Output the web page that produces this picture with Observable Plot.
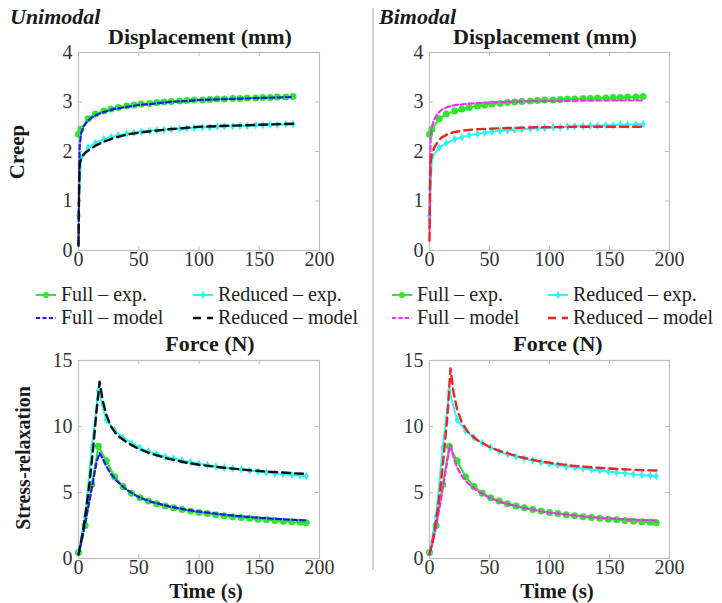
<!DOCTYPE html>
<html>
<head>
<meta charset="utf-8">
<script src="https://cdn.jsdelivr.net/npm/d3@7"></script>
<script src="https://cdn.jsdelivr.net/npm/@observablehq/plot@0.6"></script>
<style>
  body { margin: 0; background: #fff; }
  #fig { position: relative; width: 722px; height: 603px; overflow: hidden; }
  #fig svg { position: absolute; }
  #fig svg text { font-family: "Liberation Serif", "Times New Roman", serif !important; }
</style>
</head>
<body>
<div id="fig"></div>
<script>
// ---- Creep: displacement (mm) over time (s) ----
const creepTimeExp = [0, 2, 8, 14, 21, 27, 33, 40, 46, 52, 59, 65, 71, 77, 84, 90, 96, 103, 109, 115, 121, 128, 134, 140, 147, 153, 159, 165, 172, 178];
const fullCreepExp = [2.35, 2.45, 2.66, 2.76, 2.82, 2.86, 2.89, 2.92, 2.94, 2.96, 2.97, 2.99, 3.0, 3.01, 3.02, 3.03, 3.04, 3.04, 3.05, 3.06, 3.06, 3.07, 3.07, 3.08, 3.08, 3.09, 3.09, 3.1, 3.1, 3.11];
const reducedCreepExp = [0.7, 1.88, 2.08, 2.17, 2.25, 2.29, 2.33, 2.36, 2.38, 2.4, 2.42, 2.43, 2.44, 2.45, 2.46, 2.47, 2.48, 2.49, 2.49, 2.5, 2.51, 2.51, 2.52, 2.52, 2.53, 2.53, 2.54, 2.54, 2.55, 2.55];

const creepTimeModel = [0, 0.5, 1, 2, 4, 7, 10, 15, 20, 30, 40, 50, 60, 75, 90, 100, 125, 150, 178];
const fullCreepUni = [0.1, 1.5, 2.1, 2.35, 2.5, 2.6, 2.67, 2.74, 2.79, 2.86, 2.9, 2.94, 2.96, 3.0, 3.02, 3.04, 3.06, 3.08, 3.1];
const reducedCreepUni = [0.1, 1.2, 1.75, 1.85, 1.93, 2.0, 2.05, 2.13, 2.19, 2.28, 2.34, 2.38, 2.41, 2.45, 2.48, 2.5, 2.52, 2.54, 2.56];
const fullCreepBi = [0.4, 1.8, 2.3, 2.5, 2.65, 2.77, 2.84, 2.9, 2.93, 2.96, 2.98, 2.99, 3.0, 3.01, 3.02, 3.02, 3.03, 3.03, 3.03];
const reducedCreepBi = [0.2, 1.3, 1.8, 1.95, 2.08, 2.2, 2.28, 2.35, 2.39, 2.43, 2.45, 2.46, 2.47, 2.48, 2.49, 2.49, 2.5, 2.5, 2.5];

// ---- Stress-relaxation: force (N) over time (s) ----
const relaxTimeExp = [0, 5.5, 11, 16.5, 23, 30, 37, 44, 51, 58, 65, 72, 79, 86, 93, 100, 107, 114, 121, 128, 135, 142, 149, 156, 163, 170, 177, 184, 189];
const fullRelaxExp = [0.45, 2.5, 5.6, 8.5, 7.4, 6.2, 5.45, 4.95, 4.6, 4.35, 4.15, 3.98, 3.85, 3.72, 3.6, 3.48, 3.4, 3.32, 3.24, 3.17, 3.1, 3.04, 2.98, 2.93, 2.88, 2.83, 2.78, 2.74, 2.7];
const reducedRelaxExp = [0.45, 3.2, 8.4, 12.7, 10.5, 9.7, 9.15, 8.75, 8.4, 8.1, 7.9, 7.72, 7.57, 7.43, 7.3, 7.18, 7.08, 6.98, 6.9, 6.82, 6.74, 6.66, 6.59, 6.52, 6.45, 6.39, 6.33, 6.28, 6.24];

const relaxTimeModel = [0, 3, 6, 9, 12, 15, 17.5, 20, 23, 27, 32, 40, 50, 60, 75, 90, 100, 120, 140, 160, 180, 190];
const fullRelaxUni = [0.3, 1.5, 2.9, 4.3, 5.8, 7.3, 8.0, 7.6, 7.0, 6.4, 5.85, 5.2, 4.65, 4.3, 3.95, 3.68, 3.55, 3.33, 3.15, 3.02, 2.92, 2.88];
const reducedRelaxUni = [0.3, 1.7, 3.5, 5.6, 8.2, 11.2, 13.4, 12.0, 10.9, 10.0, 9.35, 8.8, 8.3, 7.95, 7.55, 7.25, 7.1, 6.88, 6.7, 6.56, 6.45, 6.4];
const fullRelaxBi = [0.3, 1.3, 2.7, 4.2, 5.8, 7.5, 8.6, 7.7, 6.9, 6.25, 5.7, 5.1, 4.6, 4.25, 3.9, 3.62, 3.48, 3.27, 3.1, 2.98, 2.9, 2.88];
const reducedRelaxBi = [0.3, 1.5, 3.2, 5.3, 7.9, 10.9, 14.4, 12.6, 11.3, 10.3, 9.6, 8.95, 8.45, 8.1, 7.7, 7.4, 7.25, 7.02, 6.87, 6.76, 6.68, 6.66];

// ---- ticks ----
const timeTicks = [0, 50, 100, 150, 200];
const creepTicks = [0, 1, 2, 3, 4];
const relaxTicks = [0, 5, 10, 15];

// ---- series colours and dashes ----
const green = "#2ee62e", cyan = "#2cf5f5", blue = "#1a1aee", black = "#111111", magenta = "#f22ef2", red = "#ee2424";
const shortDash = "5,3", longDash = "8,5";
const frameGray = "#bdbdbd";
const serif = "Liberation Serif";

const zip = (t, v) => t.map((x, i) => ({t: x, v: v[i]}));

const fig = document.getElementById("fig");

function panel({left, top, width, height, mt, mr, mb, ml, yDomain, yTicks, fullExp, reducedExp, fullModel, reducedModel}) {
  const fw = width - ml - mr, fh = height - mt - mb;
  const inner = (a) => a.slice(1, -1);
  const axisText = {fontFamily: serif, fontSize: 20, fill: "#333", tickFormat: d => String(d), label: null, tickSize: 0};
  const svg = Plot.plot({
    width, height,
    marginTop: mt, marginRight: mr, marginBottom: mb, marginLeft: ml,
    x: {domain: [0, 200]},
    y: {domain: yDomain},
    style: {fontFamily: serif, fontSize: "20px", color: "#333", background: "transparent", overflow: "visible"},
    marks: [
      Plot.frame({stroke: frameGray, strokeWidth: 1.2}),
      Plot.tickX(inner(timeTicks), {x: d => d, stroke: frameGray, insetTop: fh - 4}),
      Plot.tickX(inner(timeTicks), {x: d => d, stroke: frameGray, insetBottom: fh - 4}),
      Plot.tickY(inner(yTicks), {y: d => d, stroke: frameGray, insetRight: fw - 4}),
      Plot.tickY(inner(yTicks), {y: d => d, stroke: frameGray, insetLeft: fw - 4}),
      Plot.axisX({ticks: timeTicks, tickPadding: 1, ...axisText}),
      Plot.axisY({ticks: yTicks, tickPadding: 6, ...axisText}),
      // experimental curves: solid line with markers
      Plot.line(fullExp, {x: "t", y: "v", stroke: green, strokeWidth: 2}),
      Plot.dot(fullExp, {x: "t", y: "v", fill: green, r: 3.5}),
      Plot.line(reducedExp, {x: "t", y: "v", stroke: cyan, strokeWidth: 2}),
      Plot.dot(reducedExp, {x: "t", y: "v", fill: cyan, symbol: "diamond", r: 2.6}),
      // model curves: dashed
      Plot.line(fullModel.data, {x: "t", y: "v", stroke: fullModel.color, strokeWidth: 2.2, strokeDasharray: shortDash}),
      Plot.line(reducedModel.data, {x: "t", y: "v", stroke: reducedModel.color, strokeWidth: 2.4, strokeDasharray: longDash})
    ]
  });
  svg.style.left = left + "px";
  svg.style.top = top + "px";
  fig.appendChild(svg);
}

const creepExpFull = zip(creepTimeExp, fullCreepExp);
const creepExpReduced = zip(creepTimeExp, reducedCreepExp);
const relaxExpFull = zip(relaxTimeExp, fullRelaxExp);
const relaxExpReduced = zip(relaxTimeExp, reducedRelaxExp);

// Unimodal creep
panel({left: 0, top: 40, width: 361, height: 235, mt: 12, mr: 42, mb: 25, ml: 78,
  yDomain: [0, 4], yTicks: creepTicks, fullExp: creepExpFull, reducedExp: creepExpReduced,
  fullModel: {data: zip(creepTimeModel, fullCreepUni), color: blue},
  reducedModel: {data: zip(creepTimeModel, reducedCreepUni), color: black}});
// Bimodal creep
panel({left: 361, top: 40, width: 361, height: 235, mt: 12, mr: 53, mb: 25, ml: 68,
  yDomain: [0, 4], yTicks: creepTicks, fullExp: creepExpFull, reducedExp: creepExpReduced,
  fullModel: {data: zip(creepTimeModel, fullCreepBi), color: magenta},
  reducedModel: {data: zip(creepTimeModel, reducedCreepBi), color: red}});
// Unimodal stress-relaxation
panel({left: 0, top: 350, width: 361, height: 230, mt: 10, mr: 42, mb: 22, ml: 78,
  yDomain: [0, 15], yTicks: relaxTicks, fullExp: relaxExpFull, reducedExp: relaxExpReduced,
  fullModel: {data: zip(relaxTimeModel, fullRelaxUni), color: blue},
  reducedModel: {data: zip(relaxTimeModel, reducedRelaxUni), color: black}});
// Bimodal stress-relaxation
panel({left: 361, top: 350, width: 361, height: 230, mt: 10, mr: 53, mb: 22, ml: 68,
  yDomain: [0, 15], yTicks: relaxTicks, fullExp: relaxExpFull, reducedExp: relaxExpReduced,
  fullModel: {data: zip(relaxTimeModel, fullRelaxBi), color: magenta},
  reducedModel: {data: zip(relaxTimeModel, reducedRelaxBi), color: red}});

// ---- titles, row labels, separator and legends ----
const overlay = d3.create("svg")
  .attr("width", 722).attr("height", 603)
  .style("left", "0px").style("top", "0px")
  .attr("font-family", serif).style("pointer-events", "none");

overlay.append("line").attr("x1", 373).attr("x2", 373).attr("y1", 8).attr("y2", 570)
  .attr("stroke", "#c4c4c4").attr("stroke-width", 1.5);

const txt = (s, x, y, opts = {}) => overlay.append("text")
  .attr("x", x).attr("y", y)
  .attr("font-size", opts.size || 22)
  .attr("font-weight", opts.weight || "bold")
  .attr("font-style", opts.italic ? "italic" : null)
  .attr("text-anchor", opts.anchor || "middle")
  .attr("fill", opts.fill || "#1a1a1a")
  .text(s);

txt("Unimodal", 10, 24, {italic: true, anchor: "start"});
txt("Bimodal", 379, 24, {italic: true, anchor: "start"});
txt("Displacement (mm)", 200, 44);
txt("Displacement (mm)", 545, 44);
txt("Force (N)", 210, 351);
txt("Force (N)", 558, 351);
txt("Time (s)", 206, 598, {size: 21});
txt("Time (s)", 557, 598, {size: 21});

overlay.append("text").attr("transform", "translate(24,152) rotate(-90)")
  .attr("text-anchor", "middle").attr("font-size", 21).attr("font-weight", "bold").attr("fill", "#1a1a1a")
  .text("Creep");
overlay.append("text").attr("transform", "translate(30,458) rotate(-90)")
  .attr("text-anchor", "middle").attr("font-size", 20).attr("font-weight", "bold").attr("fill", "#1a1a1a")
  .text("Stress-relaxation");

function legend(x0, x1, fullModelColor, reducedModelColor) {
  const rows = [
    {x: x0, y: 301, label: "Full – exp.", color: green, kind: "circle"},
    {x: x1, y: 301, label: "Reduced – exp.", color: cyan, kind: "diamond"},
    {x: x0, y: 324, label: "Full – model", color: fullModelColor, kind: "short"},
    {x: x1, y: 324, label: "Reduced – model", color: reducedModelColor, kind: "long"}
  ];
  for (const r of rows) {
    const ly = r.y - 6, sx0 = r.x - 25, sx1 = r.x - 5, mid = (sx0 + sx1) / 2;
    const line = overlay.append("line").attr("x1", sx0).attr("x2", sx1).attr("y1", ly).attr("y2", ly)
      .attr("stroke", r.color).attr("stroke-width", 2);
    if (r.kind === "short") line.attr("stroke-dasharray", "4,2.5");
    if (r.kind === "long") line.attr("stroke-dasharray", "8,6").attr("stroke-width", 2.4);
    if (r.kind === "circle") overlay.append("circle").attr("cx", mid).attr("cy", ly).attr("r", 3).attr("fill", r.color);
    if (r.kind === "diamond") overlay.append("path")
      .attr("transform", `translate(${mid},${ly})`)
      .attr("d", d3.symbol(d3.symbolDiamond, 20)()).attr("fill", r.color);
    txt(r.label, r.x, r.y, {weight: "normal", size: 20, anchor: "start", fill: "#222"});
  }
}
legend(61, 218, blue, black);
legend(417, 573, magenta, red);

fig.appendChild(overlay.node());
</script>
</body>
</html>
